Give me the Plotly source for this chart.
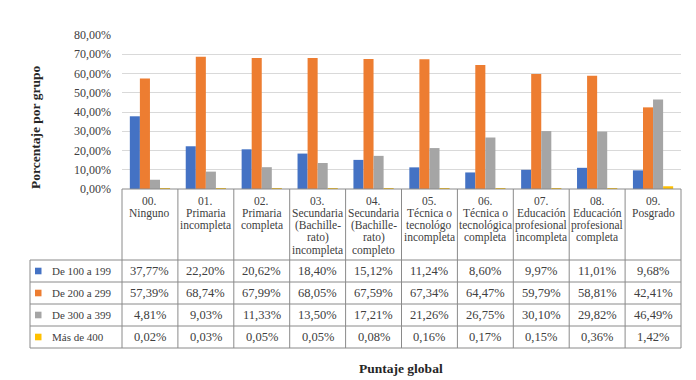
import plotly.graph_objects as go

# ---------------- data ----------------
categories = [
    "00.|Ninguno",
    "01.|Primaria|incompleta",
    "02.|Primaria|completa",
    "03.|Secundaria|(Bachille-|rato)|incompleta",
    "04.|Secundaria|(Bachille-|rato)|completo",
    "05.|Técnica o|tecnológo|incompleta",
    "06.|Técnica o|tecnológica|completa",
    "07.|Educación|profesional|incompleta",
    "08.|Educación|profesional|completa",
    "09.|Posgrado",
]
series_names = ["De 100 a 199", "De 200 a 299", "De 300 a 399", "Más de 400"]
de_100_a_199 = [37.77, 22.20, 20.62, 18.40, 15.12, 11.24, 8.60, 9.97, 11.01, 9.68]
de_200_a_299 = [57.39, 68.74, 67.99, 68.05, 67.59, 67.34, 64.47, 59.79, 58.81, 42.41]
de_300_a_399 = [4.81, 9.03, 11.33, 13.50, 17.21, 21.26, 26.75, 30.10, 29.82, 46.49]
mas_de_400 = [0.02, 0.03, 0.05, 0.05, 0.08, 0.16, 0.17, 0.15, 0.36, 1.42]
y_tick_values = [0, 10, 20, 30, 40, 50, 60, 70, 80]

series_values = [de_100_a_199, de_200_a_299, de_300_a_399, mas_de_400]
colors = ["#4472C4", "#ED7D31", "#A5A5A5", "#FFC000"]

FONT = "Liberation Serif, Times New Roman, serif"
OFF = 8  # page body margin
W, H = 696 - OFF, 380 - OFF
# plot area in page pixels: x 122..681, y 35..189
L, R, T, B = 122 - OFF, 696 - 681, 35 - OFF, 380 - 189
PW, PH = W - L - R, H - T - B


def pyp(ypx):  # page pixel -> paper
    return (189 - ypx) / PH


def pxp(xpx):
    return (xpx - 122) / PW


def fmt(v):
    return f"{v:.2f}".replace(".", ",") + "%"


fig = go.Figure()
for name, vals, col in zip(series_names, series_values, colors):
    fig.add_trace(go.Bar(x=categories, y=vals, name=name, marker=dict(color=col, line=dict(width=0)),
                         showlegend=False, hoverinfo="y"))

shapes = []
annotations = []
line_col = "#8a8a8a"

header_top = 189
header_bottom = 260
row_h = 22
table_left = 30

for i in range(len(categories) + 1):
    shapes.append(dict(type="line", xref="paper", yref="paper", x0=i / len(categories), x1=i / len(categories),
                       y0=pyp(header_top), y1=pyp(header_bottom + row_h * 4), line=dict(color=line_col, width=1)))
shapes.append(dict(type="line", xref="paper", yref="paper", x0=pxp(table_left), x1=pxp(table_left),
                   y0=pyp(header_bottom), y1=pyp(header_bottom + row_h * 4), line=dict(color=line_col, width=1)))
for r in range(5):
    yy = pyp(header_bottom + row_h * r)
    shapes.append(dict(type="line", xref="paper", yref="paper", x0=pxp(table_left), x1=1,
                       y0=yy, y1=yy, line=dict(color=line_col, width=1)))
shapes.append(dict(type="line", xref="paper", yref="paper", x0=0, x1=1, y0=0, y1=0,
                   line=dict(color=line_col, width=1)))

for cat in categories:
    for j, ln in enumerate(cat.split("|")):
        annotations.append(dict(x=cat, xref="x", y=pyp(201 + 12.3 * j), yref="paper", text=ln,
                                showarrow=False, xanchor="center", yanchor="middle",
                                font=dict(family=FONT, size=11.5, color="#404040")))

for r, (name, vals, col) in enumerate(zip(series_names, series_values, colors)):
    yc = header_bottom + row_h * r + row_h / 2
    shapes.append(dict(type="rect", xref="paper", yref="paper", x0=pxp(35), x1=pxp(41.5),
                       y0=pyp(yc + 3.3), y1=pyp(yc - 3.3), fillcolor=col, line=dict(width=0)))
    annotations.append(dict(x=pxp(50), xref="paper", y=pyp(yc), yref="paper", text=name, showarrow=False,
                            xanchor="left", yanchor="middle", font=dict(family=FONT, size=11, color="#404040")))
    for cat, v in zip(categories, vals):
        annotations.append(dict(x=cat, xref="x", y=pyp(yc), yref="paper", text=fmt(v), showarrow=False,
                                xanchor="center", yanchor="middle",
                                font=dict(family=FONT, size=12.5, color="#404040")))

annotations.append(dict(x=pxp(35), xref="paper", y=pyp(128), yref="paper", text="<b>Porcentaje por grupo</b>",
                        textangle=-90, showarrow=False, xanchor="center", yanchor="middle",
                        font=dict(family=FONT, size=13.5, color="#262626")))
annotations.append(dict(x=pxp(401), xref="paper", y=pyp(368), yref="paper", text="<b>Puntaje global</b>",
                        showarrow=False, xanchor="center", yanchor="middle",
                        font=dict(family=FONT, size=13.5, color="#262626")))

fig.update_layout(
    width=W, height=H,
    margin=dict(l=L, r=R, t=T, b=B, pad=0),
    paper_bgcolor="white", plot_bgcolor="white",
    barmode="group", bargap=0.28, bargroupgap=0,
    shapes=shapes, annotations=annotations,
    font=dict(family=FONT),
    xaxis=dict(showticklabels=False, showgrid=False, zeroline=False, showline=False, ticks="",
               categoryorder="array", categoryarray=categories),
    yaxis=dict(range=[0, 80], tickvals=y_tick_values, ticktext=[fmt(v) for v in y_tick_values],
               showgrid=True, gridcolor="#d9d9d9", gridwidth=1, zeroline=False, showline=False,
               ticks="", ticklabelstandoff=10,
               tickfont=dict(family=FONT, size=12, color="#404040")),
)

fig.write_html("out.html")
